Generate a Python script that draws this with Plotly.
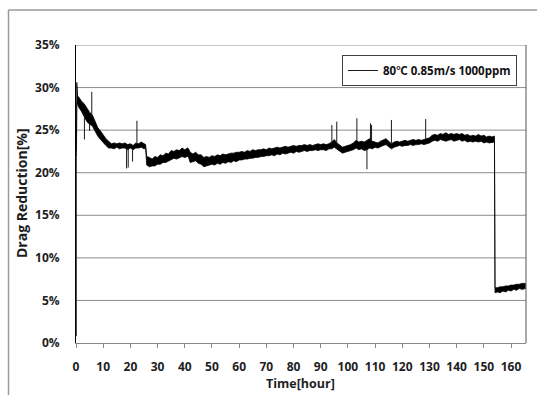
import plotly.graph_objects as go

# ---- data (Drag reduction band, % ) ----
hours = [0.15, 0.3, 0.6, 1, 2, 3, 4, 5, 6, 7, 8, 9, 10, 11, 12, 13, 14, 15, 16, 17, 18, 19, 20,
         21, 22, 23, 24, 25, 25.6, 26, 27, 28, 29, 30, 31, 32, 33, 34, 35, 36, 37, 38, 39, 40,
         41, 41.4, 42, 43, 44, 45, 46, 47, 48, 49, 50, 51, 52, 53, 54, 55, 56, 57, 58, 59, 60,
         61, 62, 63, 64, 65, 66, 67, 68, 69, 70, 71, 72, 73, 74, 75, 76, 77, 78, 79, 80,
         81, 82, 83, 84, 85, 86, 87, 88, 89, 90, 91, 92, 93, 94, 95, 96, 97, 98, 99, 100,
         101, 102, 103, 104, 105, 106, 107, 108, 109, 110, 111, 112, 113, 114, 115, 116, 117,
         118, 119, 120, 121, 122, 123, 124, 125, 126, 127, 128, 129, 130, 131, 132, 133, 134,
         135, 136, 137, 138, 139, 140, 141, 142, 143, 144, 145, 146, 147, 148, 149, 150, 151,
         152, 153, 153.9, 154.1, 155, 156, 157, 158, 159, 160, 161, 162, 163, 164, 165.4]

dr_low = [22.0, 28.2, 28.0, 27.7, 27.2, 26.6, 26.0, 25.7, 25.5, 24.9, 24.3, 23.9, 23.5, 23.2, 22.9,
          22.9, 22.8, 23.0, 22.8, 22.9, 22.9, 22.7, 22.9, 22.7, 22.9, 22.9, 23.0, 22.8, 22.9,
          20.9, 20.7, 20.8, 20.8, 21.0, 21.0, 21.2, 21.2, 21.4, 21.5, 21.7, 21.6, 21.8, 21.9, 21.8,
          21.9, 21.8, 21.2, 21.3, 21.4, 21.1, 21.0, 20.7, 20.8, 20.9, 21.0, 20.9, 21.1, 21.0, 21.2,
          21.1, 21.3, 21.2, 21.4, 21.3, 21.5, 21.5, 21.6, 21.6, 21.7, 21.7, 21.8, 21.8, 21.9, 21.9,
          22.0, 22.0, 22.1, 22.0, 22.2, 22.1, 22.3, 22.2, 22.3, 22.4, 22.3, 22.5, 22.4, 22.5, 22.6,
          22.5, 22.6, 22.6, 22.7, 22.6, 22.7, 22.7, 22.6, 22.8, 22.8, 23.0, 22.8, 22.5, 22.3, 22.4,
          22.5, 22.6, 22.7, 22.9, 22.7, 22.8, 22.6, 22.7, 22.9, 22.8, 23.0, 22.9, 23.1, 23.2, 23.3,
          23.1, 22.8, 23.0, 23.1, 23.2, 23.1, 23.2, 23.2, 23.3, 23.2, 23.3, 23.3, 23.4, 23.3, 23.4,
          23.5, 23.7, 23.8, 23.7, 23.9, 23.8, 23.7, 23.8, 23.9, 23.7, 23.8, 23.9, 23.7, 23.8, 23.6,
          23.7, 23.6, 23.7, 23.6, 23.7, 23.5, 23.6, 23.5, 23.6, 23.6, 5.9, 6.0, 5.9, 6.1, 6.0, 6.2,
          6.1, 6.3, 6.2, 6.4, 6.3, 6.4]

dr_high = [22.5, 30.6, 29.0, 28.9, 28.4, 28.1, 27.6, 27.1, 26.8, 26.1, 25.3, 24.9, 24.4, 24.0, 23.7,
           23.4, 23.5, 23.4, 23.5, 23.4, 23.5, 23.3, 23.4, 23.2, 23.5, 23.4, 23.6, 23.4, 23.3,
           21.9, 21.8, 21.6, 21.9, 21.8, 22.1, 22.0, 22.3, 22.2, 22.6, 22.5, 22.7, 22.6, 22.9, 22.7,
           22.9, 22.8, 22.4, 22.2, 22.4, 22.1, 22.1, 21.8, 21.9, 21.8, 22.0, 21.9, 22.1, 22.0, 22.2,
           22.1, 22.2, 22.3, 22.3, 22.4, 22.4, 22.5, 22.4, 22.6, 22.5, 22.7, 22.6, 22.7, 22.7, 22.8,
           22.7, 22.9, 22.8, 22.9, 23.0, 22.9, 23.0, 23.1, 23.0, 23.1, 23.2, 23.1, 23.2, 23.2, 23.3,
           23.2, 23.3, 23.2, 23.3, 23.4, 23.3, 23.4, 23.3, 23.4, 23.6, 23.9, 23.5, 23.2, 23.0, 23.1,
           23.2, 23.3, 23.5, 23.8, 23.6, 23.7, 23.6, 23.8, 24.0, 23.7, 23.6, 23.5, 23.7, 23.9, 24.0,
           23.7, 23.4, 23.6, 23.7, 23.6, 23.7, 23.8, 23.7, 23.8, 23.9, 23.8, 23.9, 23.8, 23.9, 24.0,
           24.1, 24.4, 24.5, 24.4, 24.6, 24.5, 24.7, 24.5, 24.6, 24.5, 24.6, 24.5, 24.6, 24.4, 24.5,
           24.3, 24.4, 24.3, 24.5, 24.3, 24.4, 24.2, 24.3, 24.2, 24.3, 6.5, 6.5, 6.6, 6.6, 6.7, 6.7,
           6.8, 6.8, 6.9, 6.9, 7.0, 7.0]

# isolated spikes / jumps: time, level before, level reached
spike_hours = [0.1, 3.1, 5.0, 5.8, 18.6, 19.2, 20.8, 22.4, 94.1, 95.9, 103.3, 107.0, 108.3, 108.7,
               116.0, 128.6]
spike_base = [0.8, 26.8, 25.8, 26.6, 22.9, 22.9, 22.8, 23.4, 23.4, 23.6, 23.6, 22.7, 23.8, 23.8,
              23.4, 23.8]
spike_peak = [22.3, 23.9, 24.9, 29.5, 20.5, 20.6, 21.3, 26.1, 25.6, 26.0, 26.4, 20.4, 25.8, 25.6,
              26.2, 26.3]

x_ticks = list(range(0, 161, 10))
y_ticks = list(range(0, 36, 5))
y_tick_text = [f"{v}%" for v in y_ticks]
series_name = "80℃ 0.85m/s 1000ppm"

FONT = "Open Sans, Noto Sans CJK KR, sans-serif"
TXT = "#1e1e1e"

sx, sy = [], []
for t, b, p in zip(spike_hours, spike_base, spike_peak):
    sx += [t, t, None]
    sy += [b, p, None]

fig = go.Figure()
fig.add_trace(go.Scatter(x=hours, y=dr_high, mode="lines", line=dict(color="black", width=0.8),
                         showlegend=False, hoverinfo="skip"))
fig.add_trace(go.Scatter(x=hours, y=dr_low, mode="lines", line=dict(color="black", width=0.8),
                         fill="tonexty", fillcolor="black", showlegend=False, hoverinfo="skip"))
fig.add_trace(go.Scatter(x=sx, y=sy, mode="lines", line=dict(color="#1a1a1a", width=1),
                         name=series_name, showlegend=True))

L, R, T, B = 76, 11, 45, 52
W, H = 537, 395
pw, ph = W - L - R, H - T - B


def px(x):
    return (x - L) / pw


def py(y):
    return (H - B - y) / ph


# horizontal gridlines drawn from the y tick values
grid_shapes = [dict(type="line", xref="paper", yref="y", x0=0, x1=1, y0=v, y1=v,
                    line=dict(color="#8c8c8c", width=1), layer="below")
               for v in y_ticks if v > 0]

fig.update_layout(
    width=W, height=H,
    margin=dict(l=L, r=R, t=T, b=B, pad=0),
    paper_bgcolor="white", plot_bgcolor="white",
    font=dict(family=FONT, size=12, color=TXT),
    showlegend=True,
    legend=dict(x=px(517), y=py(55), xanchor="right", yanchor="top",
                bgcolor="white", bordercolor="#404040", borderwidth=1,
                font=dict(family=FONT, size=11.5, color="#111111", weight="bold"),
                itemwidth=30),
    xaxis=dict(range=[0, 165.5], tickmode="array", tickvals=x_ticks, ticks="outside", ticklen=4,
               tickcolor="#888888", showgrid=False, showline=True, linecolor="#888888",
               linewidth=1, zeroline=False, ticklabelstandoff=9,
               tickfont=dict(family=FONT, size=12, color=TXT, weight="bold")),
    yaxis=dict(range=[0, 35], tickmode="array", tickvals=y_ticks, ticktext=y_tick_text, ticks="",
               showgrid=False, showline=True,
               linecolor="black", linewidth=1, zeroline=False, ticklabelstandoff=13,
               tickfont=dict(family=FONT, size=12, color=TXT, weight="bold")),
    annotations=[
        dict(text="<b>Drag Reduction[%]</b>", x=px(22), y=py(193), xref="paper", yref="paper",
             textangle=-90, showarrow=False, xanchor="center", yanchor="middle",
             font=dict(family=FONT, size=14, color=TXT)),
        dict(text="<b>Time[hour]</b>", x=px(300), y=py(383), xref="paper", yref="paper",
             showarrow=False, xanchor="center", yanchor="middle",
             font=dict(family=FONT, size=12.5, color=TXT)),
    ],
    shapes=grid_shapes + [
        # right border of plot area
        dict(type="line", xref="paper", yref="paper", x0=1, x1=1, y0=0, y1=1,
             line=dict(color="#555555", width=1)),
        # outer chart frame (left and top)
        dict(type="line", xref="paper", yref="paper", x0=px(8.5), x1=px(8.5), y0=py(10), y1=py(400),
             line=dict(color="#9a9a9a", width=1.5)),
        dict(type="line", xref="paper", yref="paper", x0=px(8.5), x1=px(540), y0=py(10), y1=py(10),
             line=dict(color="#9a9a9a", width=1.5)),
    ],
)

fig.write_html("out.html")
